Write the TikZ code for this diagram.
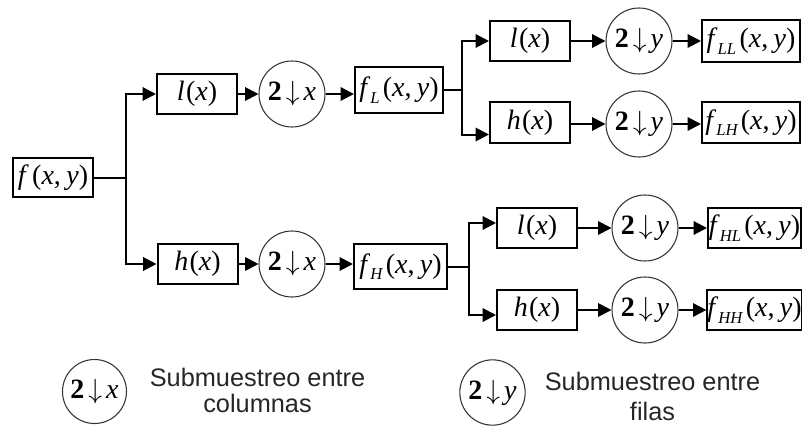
\documentclass[tikz,border=0pt]{standalone}
\usepackage{fontspec}
\setmainfont{Liberation Serif}
\newfontfamily\lblfont{Liberation Serif}
\newfontfamily\legendfont{Liberation Sans}
\usetikzlibrary{arrows.meta}
\newcommand\fsub[1]{\raisebox{-0.5ex}{\fontsize{12.5}{12.5}\selectfont\itshape #1}}
\newcommand\dsx[1]{\textbf{2}\hspace{3pt}$\downarrow$\hspace{3pt}\textit{#1}}
\newcommand\fxy[1]{\textit{f}\fsub{#1}\hspace{2.5pt}(\textit{x},\hspace{4pt}\textit{y})}
\begin{document}
\begin{tikzpicture}[x=0.75pt,y=-0.75pt,
  box/.style={draw,line width=1.5pt,inner sep=0pt,font=\lblfont\fontsize{21}{21}\selectfont,
              minimum width=60pt,minimum height=29.5pt},
  dcirc/.style={draw=black!80,line width=0.8pt,circle,inner sep=0pt,minimum size=49.5pt,
              font=\lblfont\fontsize{21}{21}\selectfont},
  arr/.style={line width=1.5pt,-{Triangle[length=10pt,width=10pt]}},
  ln/.style={line width=1.5pt},
  legtext/.style={font=\legendfont\fontsize{19}{19.5}\selectfont,align=center,text=black!85}
]
\useasboundingbox (0,0) rectangle (802,428);
% left part
\node[box] (f) at (53,177.5) {\textit{f}\hspace{2.5pt}(\textit{x},\hspace{4pt}\textit{y})};
\node[box] (l1) at (197,94) {\textit{l}\hspace{1pt}(\textit{x})};
\node[dcirc] (c1) at (292,94) {\dsx{x}};
\node[box,minimum width=66pt,minimum height=33.75pt] (fL) at (399,90) {\fxy{L}};
\node[box,minimum height=30pt] (h1) at (197.5,264) {\textit{h}\hspace{1pt}(\textit{x})};
\node[dcirc] (c2) at (292,264) {\dsx{x}};
\node[box,minimum width=69.75pt,minimum height=33.75pt] (fH) at (400.5,266.5) {\fxy{H}};
% top right
\node[box,minimum height=30pt] (l2) at (530,41) {\textit{l}\hspace{1pt}(\textit{x})};
\node[dcirc] (c3) at (639,41) {\dsx{y}};
\node[box,minimum width=73.5pt,minimum height=31.5pt] (fLL) at (751,41) {\fxy{LL}};
\node[box,minimum height=30.75pt] (h2) at (530,122.5) {\textit{h}\hspace{1pt}(\textit{x})};
\node[dcirc] (c4) at (639,124) {\dsx{y}};
\node[box,minimum width=73.5pt,minimum height=30.75pt] (fLH) at (751,122.5) {\fxy{LH}};
% bottom right
\node[box,minimum height=30pt] (l3) at (537,228) {\textit{l}\hspace{1pt}(\textit{x})};
\node[dcirc] (c5) at (645,228) {\dsx{y}};
\node[box,minimum width=69.75pt,minimum height=30pt] (fHL) at (754.5,228) {\fxy{HL}};
\node[box,minimum height=30pt] (h3) at (537,310) {\textit{h}\hspace{1pt}(\textit{x})};
\node[dcirc] (c6) at (645,310) {\dsx{y}};
\node[box,minimum width=69.75pt,minimum height=30pt] (fHH) at (754.5,310) {\fxy{HH}};
% branch points
\coordinate (b1) at ([xshift=24pt]f.east);
\coordinate (b2) at ([xshift=13.5pt]fL.east);
\coordinate (b3) at ([xshift=15.75pt]fH.east);
% connectors
\draw[ln] (f.east) -- (b1);
\draw[arr] (b1) |- (l1.west);
\draw[arr] (b1) |- (h1.west);
\draw[arr] (l1) -- (c1);
\draw[arr] (h1) -- (c2);
\draw[arr] (c1) -- (c1 -| fL.west);
\draw[arr] (c2) -- (c2 -| fH.west);
\draw[ln] (fL.east) -- (b2);
\draw[ln] (fH.east) -- (b3);
\draw[arr] (b2) |- (l2.west);
\draw[arr] (b2) |- ([yshift=-9pt]h2.west);
\draw[arr] (l2) -- (c3);
\draw[arr] (c3) -- (fLL);
\draw[arr] (h2.east |- c4) -- (c4);
\draw[arr] (c4) -- (c4 -| fLH.west);
\draw[arr] (b3) |- ([yshift=3.75pt]l3.west);
\draw[arr] (b3) |- ([yshift=-3.75pt]h3.west);
\draw[arr] (l3) -- (c5);
\draw[arr] (c5) -- (fHL);
\draw[arr] (h3) -- (c6);
\draw[arr] (c6) -- (fHH);
% legend
\node[dcirc,minimum size=48pt] (lc1) at (94.5,391.5) {\dsx{x}};
\node[legtext] (lt1) at (257.5,390) {Submuestreo entre\\columnas};
\node[dcirc,minimum size=49pt] (lc2) at (492.5,392.5) {\dsx{y}};
\node[legtext,font=\legendfont\fontsize{19}{22.5}\selectfont] (lt2) at (652.5,396) {Submuestreo entre\\filas};
\end{tikzpicture}
\end{document}
